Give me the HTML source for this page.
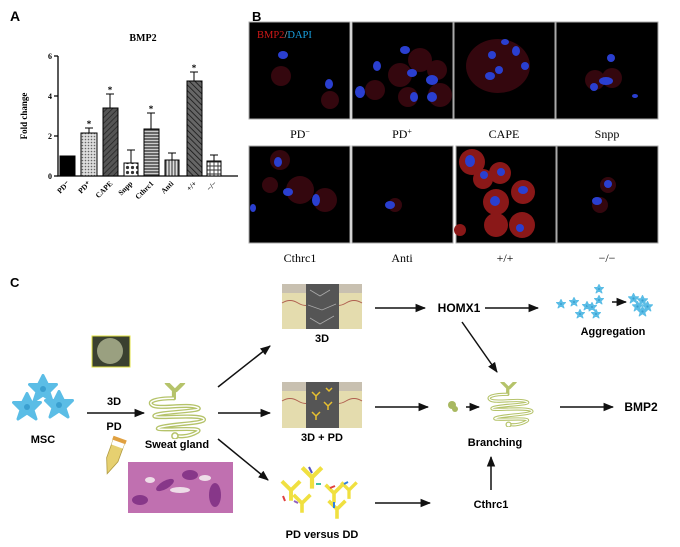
<!DOCTYPE html>
<html><head><meta charset="utf-8"><style>
html,body{margin:0;padding:0;background:#fff;}
svg{display:block;}
.s{font-family:"Liberation Serif",serif;}
.b{font-family:"Liberation Sans",sans-serif;font-weight:bold;}
</style></head><body>
<svg width="680" height="547" viewBox="0 0 680 547" xmlns="http://www.w3.org/2000/svg">
<defs>
<pattern id="p1" width="3" height="3" patternUnits="userSpaceOnUse"><rect width="3" height="3" fill="#ddd"/><circle cx="1.5" cy="1.5" r="0.8" fill="#666"/></pattern>
<pattern id="p2" width="4" height="4" patternUnits="userSpaceOnUse" patternTransform="rotate(45)"><rect width="4" height="4" fill="#555"/><line x1="0" y1="0" x2="0" y2="4" stroke="#222" stroke-width="1.5"/></pattern>
<pattern id="p3" width="5" height="5" patternUnits="userSpaceOnUse"><rect width="5" height="5" fill="#fff"/><circle cx="2.5" cy="2.5" r="1.6" fill="#333"/></pattern>
<pattern id="p4" width="3" height="3" patternUnits="userSpaceOnUse"><rect width="3" height="3" fill="#ccc"/><line x1="0" y1="1" x2="3" y2="1" stroke="#333" stroke-width="1.3"/></pattern>
<pattern id="p5" width="3" height="3" patternUnits="userSpaceOnUse"><rect width="3" height="3" fill="#ddd"/><line x1="1" y1="0" x2="1" y2="3" stroke="#555" stroke-width="1.3"/></pattern>
<pattern id="p6" width="4" height="4" patternUnits="userSpaceOnUse" patternTransform="rotate(-45)"><rect width="4" height="4" fill="#666"/><line x1="0" y1="0" x2="0" y2="4" stroke="#111" stroke-width="1.5"/></pattern>
<pattern id="p7" width="4" height="4" patternUnits="userSpaceOnUse"><rect width="4" height="4" fill="#fff"/><path d="M0 2H4M2 0V4" stroke="#333" stroke-width="0.9"/></pattern>
<marker id="ar" viewBox="0 0 10 10" refX="9" refY="5" markerWidth="7" markerHeight="7" orient="auto"><path d="M0 1L10 5L0 9z" fill="#111"/></marker>
<symbol id="cell" viewBox="-10 -10 20 20"><path d="M0-9L3-3 9-3 4 2 6 8 0 4-6 8-4 2-9-3-3-3z" fill="#5bbde6" stroke="#5bbde6" stroke-width="2" stroke-linejoin="round"/><circle r="2" fill="#3a9fd0"/></symbol>
<symbol id="ab" viewBox="-10 -10 20 20"><path d="M0 9V1M0 1L-7-6M0 1L7-6" stroke="#f0e040" stroke-width="3" fill="none"/></symbol>
<symbol id="gland" viewBox="0 0 62 55"><g fill="none" stroke="#b5c36a" stroke-width="4" stroke-linecap="round"><path d="M20 0L27 7V15M36 0L29 7"/><path d="M27 15C10 15 0 18 6 22S40 20 50 24 12 28 8 32 50 30 56 35 20 40 12 44 60 42 50 48 30 52 30 52"/></g><g fill="none" stroke="#fff" stroke-width="1.4"><path d="M27 15C10 15 0 18 6 22S40 20 50 24 12 28 8 32 50 30 56 35 20 40 12 44 60 42 50 48 30 52 30 52"/></g><circle cx="28" cy="52" r="3" fill="#fff" stroke="#b5c36a" stroke-width="1.5"/></symbol>
</defs>

<!-- Panel A -->
<text x="10" y="21" class="b" font-size="14">A</text>
<text x="143" y="41" class="s" font-size="10" font-weight="bold" text-anchor="middle">BMP2</text>
<g stroke="#000" stroke-width="1.3" fill="none">
<path d="M58 56V176H238"/>
<path d="M54 56H58M54 96H58M54 136H58M54 176H58"/>
</g>
<g class="s" font-size="8" font-weight="bold" text-anchor="end"><text x="52" y="59">6</text><text x="52" y="99">4</text><text x="52" y="139">2</text><text x="52" y="179">0</text></g>
<text transform="translate(27,116) rotate(-90)" class="s" font-size="9" font-weight="bold" text-anchor="middle">Fold change</text>
<g stroke="#000" stroke-width="1">
<rect x="60" y="156" width="15" height="20" fill="#000"/>
<rect x="81" y="133" width="16" height="43" fill="url(#p1)"/>
<rect x="103" y="108" width="15" height="68" fill="url(#p2)"/>
<rect x="124" y="163" width="14" height="13" fill="url(#p3)"/>
<rect x="144" y="129" width="15" height="47" fill="url(#p4)"/>
<rect x="165" y="160" width="14" height="16" fill="url(#p5)"/>
<rect x="187" y="81" width="15" height="95" fill="url(#p6)"/>
<rect x="207" y="161" width="14" height="15" fill="url(#p7)"/>
<path d="M89 133V128M85 128H93M110 108V94M106 94H114M131 163V150M127 150H135M151 129V113M147 113H155M172 160V153M168 153H176M194 81V72M190 72H198M214 161V155M210 155H218" fill="none"/>
</g>
<g class="s" font-size="9" font-weight="bold" text-anchor="middle"><text x="89" y="127">*</text><text x="110" y="93">*</text><text x="151" y="112">*</text><text x="194" y="71">*</text></g>
<g class="s" font-size="7.5" font-weight="bold" text-anchor="end">
<text transform="translate(70,184) rotate(-45)">PD⁻</text>
<text transform="translate(91,184) rotate(-45)">PD⁺</text>
<text transform="translate(113,184) rotate(-45)">CAPE</text>
<text transform="translate(133,184) rotate(-45)">Snpp</text>
<text transform="translate(154,184) rotate(-45)">Cthrc1</text>
<text transform="translate(174,184) rotate(-45)">Anti</text>
<text transform="translate(197,184) rotate(-45)">+/+</text>
<text transform="translate(217,184) rotate(-45)">−/−</text>
</g>

<!-- Panel B -->
<text x="252" y="21" class="b" font-size="13">B</text>
<g fill="#000" stroke="#aaa" stroke-width="1">
<rect x="249" y="22" width="101" height="97"/><rect x="352" y="22" width="101" height="97"/><rect x="454" y="22" width="101" height="97"/><rect x="556" y="22" width="102" height="97"/>
<rect x="249" y="146" width="101" height="97"/><rect x="352" y="146" width="101" height="97"/><rect x="456" y="146" width="100" height="97"/><rect x="557" y="146" width="101" height="97"/>
</g>
<g fill="#3a0810" opacity="0.9">
<circle cx="281" cy="76" r="10"/><circle cx="330" cy="100" r="9"/>
<circle cx="400" cy="75" r="12"/><circle cx="420" cy="60" r="12"/><circle cx="440" cy="95" r="12"/><circle cx="375" cy="90" r="10"/><circle cx="408" cy="97" r="10"/><circle cx="437" cy="70" r="10"/>
<ellipse cx="498" cy="66" rx="32" ry="27"/>
<circle cx="595" cy="80" r="10"/><circle cx="612" cy="78" r="10"/>
<circle cx="280" cy="160" r="10"/><circle cx="300" cy="190" r="14"/><circle cx="325" cy="200" r="12"/><circle cx="270" cy="185" r="8"/>
<circle cx="395" cy="205" r="7"/>
<circle cx="600" cy="205" r="8"/><circle cx="608" cy="185" r="8"/>
</g>
<g fill="#8a1818">
<circle cx="472" cy="162" r="13"/><circle cx="483" cy="179" r="10"/><circle cx="500" cy="173" r="11"/><circle cx="496" cy="202" r="13"/><circle cx="523" cy="192" r="12"/><circle cx="522" cy="225" r="13"/><circle cx="496" cy="225" r="12"/><circle cx="460" cy="230" r="6"/>
</g>
<g fill="#2a3fd0">
<ellipse cx="283" cy="55" rx="5" ry="4"/><ellipse cx="329" cy="84" rx="4" ry="5"/>
<ellipse cx="405" cy="50" rx="5" ry="4"/><ellipse cx="377" cy="66" rx="4" ry="5"/><ellipse cx="412" cy="73" rx="5" ry="4"/><ellipse cx="432" cy="80" rx="6" ry="5"/><ellipse cx="414" cy="97" rx="4" ry="5"/><ellipse cx="432" cy="97" rx="5" ry="5"/><ellipse cx="360" cy="92" rx="5" ry="6"/>
<ellipse cx="505" cy="42" rx="4" ry="3"/><ellipse cx="492" cy="55" rx="4" ry="4"/><ellipse cx="516" cy="51" rx="4" ry="5"/><ellipse cx="499" cy="70" rx="4" ry="4"/><ellipse cx="490" cy="76" rx="5" ry="4"/><ellipse cx="525" cy="66" rx="4" ry="4"/>
<ellipse cx="611" cy="58" rx="4" ry="4"/><ellipse cx="594" cy="87" rx="4" ry="4"/><ellipse cx="606" cy="81" rx="7" ry="4"/><ellipse cx="635" cy="96" rx="3" ry="2"/>
<ellipse cx="278" cy="162" rx="4" ry="5"/><ellipse cx="288" cy="192" rx="5" ry="4"/><ellipse cx="316" cy="200" rx="4" ry="6"/><ellipse cx="253" cy="208" rx="3" ry="4"/>
<ellipse cx="390" cy="205" rx="5" ry="4"/>
<ellipse cx="470" cy="161" rx="5" ry="6"/><ellipse cx="484" cy="175" rx="4" ry="4"/><ellipse cx="501" cy="172" rx="4" ry="4"/><ellipse cx="495" cy="201" rx="5" ry="5"/><ellipse cx="523" cy="190" rx="5" ry="4"/><ellipse cx="520" cy="228" rx="4" ry="4"/>
<ellipse cx="608" cy="184" rx="4" ry="4"/><ellipse cx="597" cy="201" rx="5" ry="4"/>
</g>
<text x="257" y="38" class="s" font-size="10.5"><tspan fill="#d01818">BMP2</tspan><tspan fill="#ccc">/</tspan><tspan fill="#18a0e0">DAPI</tspan></text>
<g class="s" font-size="12" text-anchor="middle">
<text x="300" y="138">PD<tspan baseline-shift="super" font-size="8">−</tspan></text>
<text x="402" y="138">PD<tspan baseline-shift="super" font-size="8">+</tspan></text>
<text x="504" y="138">CAPE</text>
<text x="607" y="138">Snpp</text>
<text x="300" y="262">Cthrc1</text>
<text x="402" y="262">Anti</text>
<text x="505" y="262">+/+</text>
<text x="607" y="262">−/−</text>
</g>

<!-- Panel C -->
<text x="10" y="287" class="b" font-size="13">C</text>
<use href="#cell" x="12" y="392" width="30" height="30"/>
<use href="#cell" x="28" y="374" width="30" height="30"/>
<use href="#cell" x="44" y="390" width="30" height="30"/>
<text x="43" y="443" class="b" font-size="11" text-anchor="middle">MSC</text>
<rect x="92" y="336" width="38" height="31" fill="#3a4030" stroke="#e0e040" stroke-width="1"/>
<circle cx="110" cy="351" r="13" fill="#9aa080"/>
<g fill="none" stroke="#111" stroke-width="1.5" marker-end="url(#ar)">
<path d="M87 413H144"/>
<path d="M218 387L270 346"/>
<path d="M218 413H270"/>
<path d="M218 439L268 480"/>
<path d="M375 308H425"/>
<path d="M485 308H538"/>
<path d="M462 322L497 372"/>
<path d="M375 407H428"/>
<path d="M466 407H479"/>
<path d="M560 407H613"/>
<path d="M375 503H430"/>
<path d="M491 490V457"/>
<path d="M612 302H626"/>
</g>
<text x="114" y="405" class="b" font-size="11" text-anchor="middle">3D</text>
<text x="114" y="430" class="b" font-size="11" text-anchor="middle">PD</text>
<g transform="translate(114,455) rotate(20)"><path d="M-6 -15H6V5L0 20-6 5Z" fill="#e6d070" stroke="#b09a40" stroke-width="0.8"/><rect x="-6" y="-15" width="12" height="6" fill="#fff"/><rect x="-7" y="-18" width="14" height="4" fill="#e0a040"/></g>
<use href="#gland" x="145" y="383" width="66" height="56"/>
<text x="177" y="448" class="b" font-size="11" text-anchor="middle">Sweat gland</text>
<rect x="128" y="462" width="105" height="51" fill="#c070b0"/>
<g fill="#7a2a80" opacity="0.8"><ellipse cx="165" cy="485" rx="10" ry="4" transform="rotate(-30 165 485)"/><ellipse cx="215" cy="495" rx="6" ry="12"/><ellipse cx="140" cy="500" rx="8" ry="5"/><ellipse cx="190" cy="475" rx="8" ry="5"/></g>
<g fill="#eedde8"><ellipse cx="180" cy="490" rx="10" ry="3"/><ellipse cx="205" cy="478" rx="6" ry="3"/><ellipse cx="150" cy="480" rx="5" ry="3"/></g>
<!-- 3D blocks -->
<g>
<rect x="282" y="284" width="80" height="45" fill="#e4dcae"/><rect x="282" y="284" width="80" height="9" fill="#c8c0b0"/><path d="M282 303Q290 298 298 303T314 303T330 303T346 303T362 303" stroke="#b06050" fill="none"/>
<rect x="306" y="284" width="33" height="45" fill="#555"/>
<path d="M310 290L320 296L330 290M308 305L322 310L336 304M310 318L320 324L334 316" stroke="#aaa" fill="none" stroke-width="0.8"/>
</g>
<text x="322" y="342" class="b" font-size="11" text-anchor="middle">3D</text>
<g>
<rect x="282" y="382" width="80" height="46" fill="#e4dcae"/><rect x="282" y="382" width="80" height="9" fill="#c8c0b0"/><path d="M282 401Q290 396 298 401T314 401T330 401T346 401T362 401" stroke="#b06050" fill="none"/>
<rect x="306" y="382" width="33" height="46" fill="#555"/>
<g stroke="#e8c030" stroke-width="1.5" fill="none"><path d="M312 392l4 4 4-4M316 396v4M324 402l4 4 4-4M328 406v4M312 412l4 4 4-4M316 416v4M326 388l3 3 3-3"/></g>
</g>
<text x="322" y="441" class="b" font-size="11" text-anchor="middle">3D + PD</text>
<use href="#ab" x="278" y="476" width="26" height="26"/>
<use href="#ab" x="298" y="462" width="28" height="28"/>
<use href="#ab" x="290" y="490" width="24" height="24"/>
<use href="#ab" x="322" y="480" width="24" height="24"/>
<use href="#ab" x="338" y="478" width="22" height="22"/>
<use href="#ab" x="325" y="496" width="24" height="24"/>
<g stroke-width="2"><path d="M309 467l3 6" stroke="#5050c0"/><path d="M330 488l5 -2" stroke="#e04040"/><path d="M344 484l4 -2" stroke="#3080e0"/><path d="M283 496l2 5" stroke="#e04040"/><path d="M298 503l-4 -2" stroke="#9060c0"/><path d="M334 502l0 6" stroke="#3080e0"/><path d="M316 484l5 0" stroke="#40c0a0"/></g>
<text x="322" y="538" class="b" font-size="11" text-anchor="middle">PD versus DD</text>
<text x="459" y="312" class="b" font-size="12" text-anchor="middle">HOMX1</text>
<g>
<use href="#cell" x="556" y="299" width="10" height="10"/><use href="#cell" x="569" y="297" width="10" height="10"/><use href="#cell" x="582" y="301" width="10" height="10"/><use href="#cell" x="594" y="295" width="10" height="10"/><use href="#cell" x="594" y="284" width="10" height="10"/><use href="#cell" x="575" y="309" width="10" height="10"/><use href="#cell" x="591" y="309" width="10" height="10"/><use href="#cell" x="587" y="302" width="10" height="10"/>
<use href="#cell" x="628" y="293" width="11" height="11"/><use href="#cell" x="637" y="295" width="11" height="11"/><use href="#cell" x="632" y="301" width="11" height="11"/><use href="#cell" x="642" y="301" width="11" height="11"/><use href="#cell" x="637" y="306" width="11" height="11"/>
</g>
<text x="613" y="335" class="b" font-size="11" text-anchor="middle">Aggregation</text>
<circle cx="452" cy="405" r="4" fill="#a8b860"/><circle cx="455" cy="409" r="3" fill="#a8b860"/>
<use href="#gland" x="485" y="382" width="52" height="45"/>
<text x="495" y="446" class="b" font-size="11" text-anchor="middle">Branching</text>
<text x="641" y="411" class="b" font-size="12" text-anchor="middle">BMP2</text>
<text x="491" y="508" class="b" font-size="11" text-anchor="middle">Cthrc1</text>
</svg>
</body></html>
